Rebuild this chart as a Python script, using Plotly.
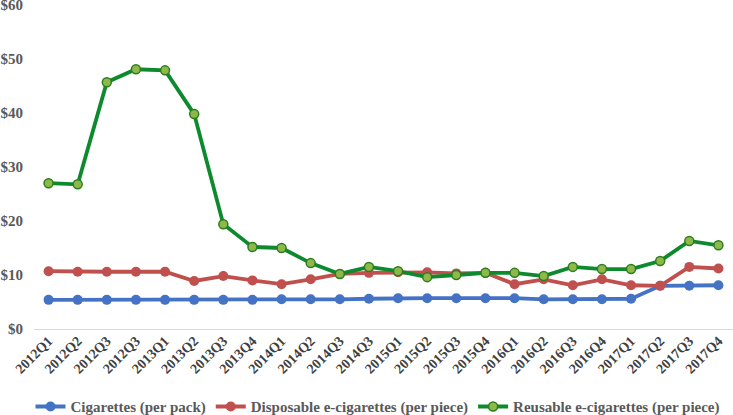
import plotly.graph_objects as go

quarters = ["2012Q1", "2012Q2", "2012Q3", "2012Q3", "2013Q1", "2013Q2", "2013Q3", "2013Q4",
            "2014Q1", "2014Q2", "2014Q3", "2014Q3", "2015Q1", "2015Q2", "2015Q3", "2015Q4",
            "2016Q1", "2016Q2", "2016Q3", "2016Q4", "2017Q1", "2017Q2", "2017Q3", "2017Q4"]

cigarettes = [5.4, 5.4, 5.4, 5.4, 5.4, 5.4, 5.4, 5.4,
              5.5, 5.5, 5.5, 5.6, 5.7, 5.7, 5.7, 5.7,
              5.7, 5.5, 5.5, 5.5, 5.6, 8.0, 8.0, 8.1]

disposable = [10.7, 10.6, 10.6, 10.6, 10.6, 8.9, 9.8, 9.0,
              8.3, 9.2, 10.2, 10.4, 10.5, 10.5, 10.3, 10.4,
              8.3, 9.2, 8.1, 9.2, 8.1, 8.0, 11.5, 11.2]

reusable = [27.0, 26.8, 45.7, 48.1, 47.9, 39.8, 19.4, 15.2,
            15.0, 12.2, 10.2, 11.5, 10.7, 9.6, 10.0, 10.4,
            10.4, 9.8, 11.5, 11.1, 11.1, 12.6, 16.3, 15.5]

y_ticks = [0, 10, 20, 30, 40, 50, 60]
y_labels = ["$0", "$10", "$20", "$30", "$40", "$50", "$60"]

x = list(range(len(quarters)))
font_family = "Liberation Serif"

fig = go.Figure()
fig.add_trace(go.Scatter(x=x, y=cigarettes, name="Cigarettes (per pack)", mode="lines+markers",
                         line=dict(color="#4472C4", width=3.8),
                         marker=dict(color="#4472C4", size=10)))
fig.add_trace(go.Scatter(x=x, y=disposable, name="Disposable e-cigarettes (per piece)", mode="lines+markers",
                         line=dict(color="#C0504D", width=3.8),
                         marker=dict(color="#C0504D", size=10)))
fig.add_trace(go.Scatter(x=x, y=reusable, name="Reusable e-cigarettes (per piece)", mode="lines+markers",
                         line=dict(color="#0E8A2E", width=3.8),
                         marker=dict(color="#8DB84A", size=9, line=dict(color="#2E7D1F", width=1.5))))

fig.update_layout(
    width=733, height=415,
    margin=dict(l=34, r=0, t=5, b=86, autoexpand=False),
    paper_bgcolor="white", plot_bgcolor="white",
    font=dict(family=font_family, color="#595959"),
    showlegend=True,
    legend=dict(orientation="h", x=-0.005, xanchor="left", y=-0.24, yanchor="middle",
                font=dict(size=15, family=font_family, color="#595959", weight="bold"),
                tracegroupgap=0),
    xaxis=dict(range=[-0.5, len(quarters) - 0.5], tickmode="array", tickvals=x, ticktext=quarters,
               tickangle=-45, showgrid=False, zeroline=False, showline=False,
               tickfont=dict(size=14, family=font_family, color="#404040", weight="bold"),
               ticks="", ticklabeloverflow="allow"),
    yaxis=dict(range=[0, 60], tickmode="array", tickvals=y_ticks, ticktext=y_labels,
               showgrid=False, zeroline=True, zerolinecolor="#D9D9D9", zerolinewidth=1,
               showline=False, ticks="", ticklabeloverflow="allow", ticklabelstandoff=10,
               tickfont=dict(size=15, family=font_family, color="#595959", weight="bold")),
)

fig.write_html("out.html", post_script="document.body.style.margin='0px';",
               config={"displayModeBar": False})
